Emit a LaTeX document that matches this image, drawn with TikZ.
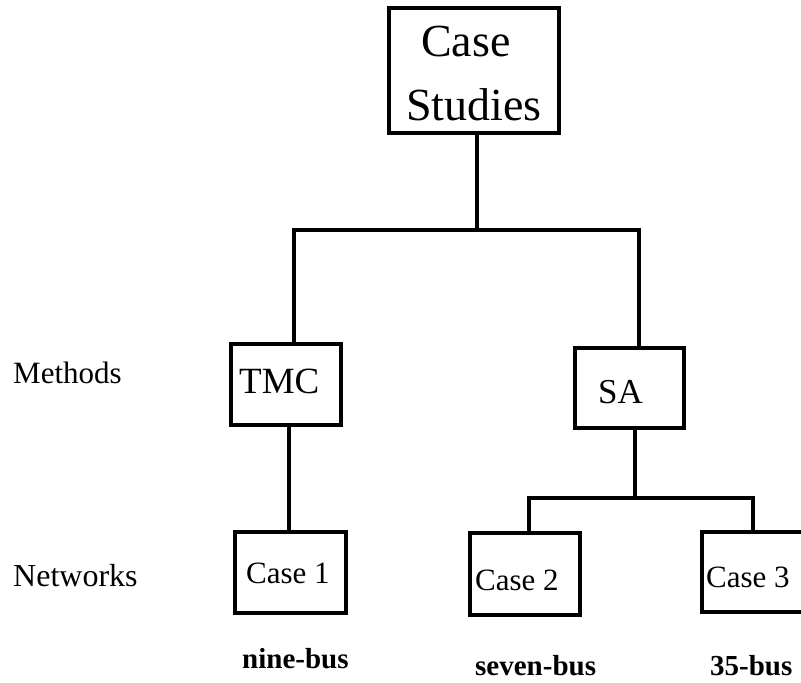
\documentclass[tikz,border=0pt]{standalone}
\usepackage{fontspec}
\setmainfont{Liberation Serif}
\begin{document}
\begin{tikzpicture}[x=1pt,y=-1pt,
  box/.style={draw, line width=3.6pt, inner sep=0pt},
  txt/.style={inner sep=0pt, anchor=base west},
  conn/.style={line width=3.6pt, line join=miter}]
\useasboundingbox (0,0) rectangle (801,683);
\clip (0,0) rectangle (801,683);
% boxes
\node[box, minimum width=170pt, minimum height=125pt] (cs) at (474,70.5) {};
\node[box, minimum width=110pt, minimum height=81pt] (tmc) at (286,384.5) {};
\node[box, minimum width=109pt, minimum height=80pt] (sa) at (629.5,388) {};
\node[box, minimum width=111pt, minimum height=81pt] (c1) at (290.5,572.5) {};
\node[box, minimum width=110pt, minimum height=82pt] (c2) at (525,574) {};
\node[box, minimum width=110pt, minimum height=80pt] (c3) at (757,572) {};
% texts in boxes
\node[inner sep=0pt, anchor=base] (cst1) at (466,56) {\fontsize{46}{50}\selectfont Case};
\node[inner sep=0pt, anchor=base] (cst2) at (474,120) {\fontsize{46}{50}\selectfont Studies};
\node[txt] (tmct) at (239,393) {\fontsize{37}{40}\selectfont TMC};
\node[txt] (sat) at (598,403) {\fontsize{35}{40}\selectfont SA};
\node[txt] (c1t) at (246,583) {\fontsize{31}{34}\selectfont Case 1};
\node[txt] (c2t) at (475,590) {\fontsize{31}{34}\selectfont Case 2};
\node[txt] (c3t) at (706,587) {\fontsize{31}{34}\selectfont Case 3};
% side labels
\node[txt] (meth) at (13,383) {\fontsize{31}{34}\selectfont Methods};
\node[txt] (netw) at (13,586) {\fontsize{32}{34}\selectfont Networks};
% bus labels
\node[txt] (b1) at (242,668) {\fontsize{29}{32}\selectfont\bfseries nine-bus};
\node[txt] (b2) at (475,675) {\fontsize{29}{32}\selectfont\bfseries seven-bus};
\node[txt] (b3) at (710,675) {\fontsize{29}{32}\selectfont\bfseries 35-bus};
% junctions
\coordinate (j1) at (477,230);
\coordinate (jL) at (294,230);
\coordinate (jR) at (639,230);
\coordinate (k1) at (289,480);
\coordinate (j2) at (635,498);
\coordinate (j2L) at (529,498);
\coordinate (j2R) at (753,498);
% connectors
\draw[conn] (cs.south -| j1) -- (j1);
\draw[conn] (tmc.north -| jL) -- (jL) -- (jR) -- (sa.north -| jR);
\draw[conn] (tmc.south -| k1) -- (c1.north -| k1);
\draw[conn] (sa.south -| j2) -- (j2);
\draw[conn] (c2.north -| j2L) -- (j2L) -- (j2R) -- (c3.north -| j2R);
\end{tikzpicture}
\end{document}
